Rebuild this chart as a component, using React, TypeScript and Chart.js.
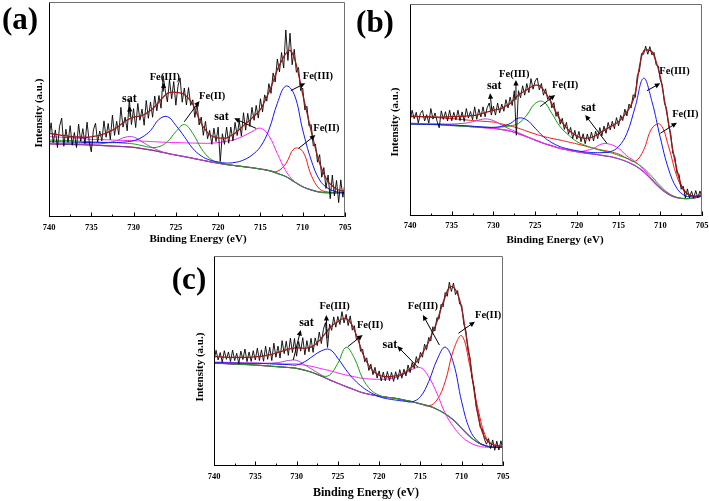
import React, { useEffect, useRef } from "react";
import { Chart, registerables } from "chart.js";

Chart.register(...registerables);

const FONT = "'Liberation Serif', 'Times New Roman', serif";

// ---------- shared axes ----------
const energyFit = [740, 739, 738, 737, 736, 735, 734, 733, 732, 731, 730, 729, 728, 727, 726, 725, 724, 723, 722, 721, 720, 719, 718, 717, 716, 715, 714, 713, 712, 711, 710, 709, 708, 707, 706, 705];
const energyEnv = [740, 739.5, 739, 738.5, 738, 737.5, 737, 736.5, 736, 735.5, 735, 734.5, 734, 733.5, 733, 732.5, 732, 731.5, 731, 730.5, 730, 729.5, 729, 728.5, 728, 727.5, 727, 726.5, 726, 725.5, 725, 724.5, 724, 723.5, 723, 722.5, 722, 721.5, 721, 720.5, 720, 719.5, 719, 718.5, 718, 717.5, 717, 716.5, 716, 715.5, 715, 714.5, 714, 713.5, 713, 712.5, 712, 711.5, 711, 710.5, 710, 709.5, 709, 708.5, 708, 707.5, 707, 706.5, 706, 705.5, 705];
const energyRaw = [740, 739.75, 739.5, 739.25, 739, 738.75, 738.5, 738.25, 738, 737.75, 737.5, 737.25, 737, 736.75, 736.5, 736.25, 736, 735.75, 735.5, 735.25, 735, 734.75, 734.5, 734.25, 734, 733.75, 733.5, 733.25, 733, 732.75, 732.5, 732.25, 732, 731.75, 731.5, 731.25, 731, 730.75, 730.5, 730.25, 730, 729.75, 729.5, 729.25, 729, 728.75, 728.5, 728.25, 728, 727.75, 727.5, 727.25, 727, 726.75, 726.5, 726.25, 726, 725.75, 725.5, 725.25, 725, 724.75, 724.5, 724.25, 724, 723.75, 723.5, 723.25, 723, 722.75, 722.5, 722.25, 722, 721.75, 721.5, 721.25, 721, 720.75, 720.5, 720.25, 720, 719.75, 719.5, 719.25, 719, 718.75, 718.5, 718.25, 718, 717.75, 717.5, 717.25, 717, 716.75, 716.5, 716.25, 716, 715.75, 715.5, 715.25, 715, 714.75, 714.5, 714.25, 714, 713.75, 713.5, 713.25, 713, 712.75, 712.5, 712.25, 712, 711.75, 711.5, 711.25, 711, 710.75, 710.5, 710.25, 710, 709.75, 709.5, 709.25, 709, 708.75, 708.5, 708.25, 708, 707.75, 707.5, 707.25, 707, 706.75, 706.5, 706.25, 706, 705.75, 705.5, 705.25, 705];
const tickLabels = [740, 735, 730, 725, 720, 715, 710, 705];
const minorTicks = [737.5, 732.5, 727.5, 722.5, 717.5, 712.5, 707.5];

// ---------- panel (a) ----------
const rawA = [36.9, 43.8, 34.6, 40.5, 32.3, 42.2, 46.0, 32.9, 40.8, 34.7, 42.5, 33.4, 39.3, 32.3, 43.2, 35.2, 41.1, 34.1, 44.1, 35.2, 30.3, 40.5, 43.6, 34.8, 40.0, 35.4, 44.7, 37.1, 43.5, 36.0, 47.4, 38.0, 44.5, 38.3, 51.0, 41.8, 46.5, 40.1, 54.6, 43.0, 50.4, 41.6, 52.8, 45.0, 50.2, 42.7, 54.2, 45.9, 53.5, 46.4, 56.3, 49.4, 56.5, 50.6, 65.7, 58.6, 53.5, 63.8, 55.0, 63.0, 52.0, 60.9, 64.7, 53.4, 60.0, 52.1, 60.2, 51.9, 54.5, 46.3, 53.0, 42.8, 46.5, 38.0, 44.5, 36.4, 40.3, 33.8, 41.3, 35.1, 41.8, 25.8, 38.7, 33.8, 41.8, 34.3, 41.8, 35.4, 44.0, 37.9, 44.7, 37.6, 48.5, 40.4, 48.2, 42.1, 51.0, 45.0, 51.9, 46.0, 55.0, 48.9, 56.8, 53.9, 62.0, 57.5, 67.0, 62.8, 73.5, 67.5, 76.5, 69.3, 87.0, 72.8, 85.5, 70.8, 78.0, 67.3, 69.5, 58.8, 60.0, 49.8, 51.5, 42.3, 43.0, 33.0, 34.0, 25.5, 29.0, 18.5, 23.0, 13.3, 19.5, 8.5, 19.5, 9.8, 17.0, 6.7, 17.3, 9.2, 16.0];
const envA = [38.9, 38.6, 38.3, 38.0, 37.8, 37.5, 37.3, 37.2, 37.1, 37.1, 37.3, 37.6, 38.0, 38.7, 39.5, 40.4, 41.5, 43.0, 44.5, 45.6, 46.4, 46.8, 47.2, 48.2, 49.5, 51.3, 53.5, 55.7, 57.5, 58.0, 58.0, 57.7, 57.0, 55.2, 52.5, 48.0, 43.5, 40.5, 38.3, 37.3, 36.8, 36.7, 36.8, 37.8, 39.0, 40.7, 42.5, 44.2, 46.0, 47.9, 50.0, 53.8, 58.0, 63.0, 68.5, 72.5, 76.0, 77.5, 74.0, 66.5, 57.0, 48.5, 40.0, 32.0, 25.0, 20.0, 16.5, 14.5, 13.0, 12.3, 12.0];
const fe3A = [35.0, 35.0, 34.9, 34.8, 34.7, 34.6, 34.6, 34.6, 34.6, 34.9, 35.5, 37.1, 40.2, 45.4, 46.7, 42.6, 37.4, 31.9, 28.4, 26.5, 25.6, 25.1, 25.4, 26.5, 28.8, 32.7, 40.5, 52.9, 60.9, 57.0, 40.5, 26.5, 17.2, 13.3, 11.8, 11.3];
const fe2A = [35.8, 35.7, 35.6, 35.4, 35.2, 35.0, 34.8, 34.7, 34.6, 34.3, 34.0, 33.2, 32.4, 32.7, 35.0, 39.7, 43.0, 38.9, 31.9, 27.3, 25.3, 24.5, 23.9, 23.4, 22.9, 22.3, 21.6, 20.3, 18.8, 16.4, 14.1, 12.6, 11.6, 11.3, 11.3, 11.3];
const satA = [37.4, 37.2, 37.0, 36.8, 36.5, 36.1, 36.0, 35.9, 35.7, 35.6, 35.5, 35.3, 35.1, 34.9, 34.7, 34.6, 34.5, 34.4, 34.3, 34.3, 34.6, 35.2, 36.1, 37.7, 39.7, 41.3, 37.8, 29.5, 21.5, 16.5, 14.0, 12.5, 11.6, 11.3, 11.3, 11.3];
const fe2bA = [34.0, 33.9, 33.8, 33.7, 33.6, 33.5, 33.3, 33.1, 32.9, 32.7, 32.4, 31.8, 31.2, 30.4, 29.6, 28.8, 28.1, 27.3, 26.5, 25.7, 25.0, 24.4, 23.9, 23.4, 22.9, 22.3, 21.6, 21.3, 24.8, 31.8, 30.5, 19.5, 13.0, 11.6, 11.3, 11.3];
const satLoA = [34.3, 34.3, 34.2, 34.1, 34.0, 34.0, 34.0, 34.6, 35.5, 37.1, 37.2, 35.0, 32.7, 30.9, 29.6, 28.8, 28.1, 27.3, 26.5, 25.7, 25.0, 24.4, 23.9, 23.4, 22.9, 22.3, 21.6, 20.3, 18.8, 16.4, 14.1, 12.6, 11.6, 11.3, 11.3, 11.3];
const baseA = [34.0, 33.9, 33.8, 33.7, 33.6, 33.5, 33.3, 33.1, 32.9, 32.7, 32.4, 31.8, 31.2, 30.4, 29.6, 28.8, 28.1, 27.3, 26.5, 25.7, 25.0, 24.4, 23.9, 23.4, 22.9, 22.3, 21.6, 20.3, 18.8, 16.4, 14.1, 12.6, 11.6, 11.3, 11.3, 11.3];
const notesA = [
  { text: "sat", x: 730.5, y: 54.9, from: [730.4, 46.5], to: [730.5, 51.6] },
  { text: "Fe(III)", x: 726.3, y: 65.0, from: [726.5, 58.3], to: [726.4, 62.6] },
  { text: "Fe(II)", x: 720.7, y: 56.3, from: [724.0, 44.3], to: [722.2, 54.0] },
  { text: "sat", x: 719.6, y: 46.4, from: [715.5, 41.2], to: [718.1, 45.9] },
  { text: "Fe(III)", x: 708.2, y: 65.3, from: [711.4, 58.8], to: [709.7, 62.2] },
  { text: "Fe(II)", x: 707.2, y: 41.2, from: [710.5, 31.9], to: [708.5, 38.1] },
];

// ---------- panel (b) ----------
const rawB = [44.9, 49.9, 45.9, 48.9, 43.9, 48.4, 49.8, 44.8, 47.8, 43.8, 50.7, 45.7, 48.6, 44.6, 41.6, 49.6, 45.6, 49.2, 44.8, 49.9, 44.9, 48.9, 45.4, 49.9, 45.0, 49.1, 44.6, 50.7, 46.2, 49.3, 45.4, 51.5, 45.6, 50.4, 46.7, 51.5, 46.8, 51.1, 53.3, 47.6, 51.8, 47.6, 53.3, 48.6, 52.8, 49.4, 54.9, 51.0, 56.1, 52.1, 59.1, 38.1, 59.1, 55.8, 61.4, 57.0, 62.5, 58.2, 64.8, 59.8, 63.7, 65.1, 59.5, 62.5, 57.0, 60.0, 55.0, 56.8, 51.0, 53.5, 47.0, 49.2, 43.3, 46.1, 40.8, 44.2, 38.6, 41.8, 36.5, 40.4, 36.2, 39.9, 35.0, 38.8, 34.1, 38.7, 35.3, 39.6, 35.4, 40.0, 36.5, 41.7, 37.8, 42.4, 39.0, 44.1, 40.6, 44.7, 41.2, 46.4, 42.5, 47.5, 45.0, 50.4, 47.2, 52.8, 50.9, 57.2, 55.9, 66.2, 68.4, 76.6, 76.3, 80.1, 76.3, 79.9, 76.0, 77.2, 71.3, 70.8, 64.2, 61.7, 53.2, 50.7, 42.7, 38.9, 29.6, 27.9, 20.2, 19.7, 12.6, 14.1, 8.5, 12.8, 8.5, 11.7, 8.4, 12.0, 8.6, 11.8, 8.9];
const envB = [46.9, 46.9, 46.9, 46.8, 46.8, 46.7, 46.6, 46.6, 46.6, 46.8, 46.9, 46.9, 47.0, 47.1, 47.2, 47.4, 47.6, 48.2, 48.8, 49.3, 49.8, 50.3, 50.8, 51.9, 53.1, 55.1, 57.1, 58.4, 59.5, 60.8, 61.7, 61.5, 59.5, 56.5, 53.0, 49.0, 45.3, 42.8, 40.6, 39.0, 37.7, 37.0, 36.6, 36.8, 37.4, 38.5, 39.8, 41.0, 42.1, 43.2, 44.5, 46.5, 49.2, 52.4, 57.9, 70.4, 77.8, 78.3, 77.5, 72.8, 65.7, 54.7, 43.7, 31.1, 21.7, 14.6, 11.5, 10.0, 9.4, 9.6, 9.9];
const fe3B = [43.4, 43.3, 43.2, 43.1, 43.0, 42.9, 42.7, 42.5, 42.2, 41.9, 41.8, 42.3, 43.6, 46.2, 45.3, 41.4, 37.4, 34.6, 32.7, 31.6, 30.8, 30.2, 29.9, 29.9, 30.3, 32.7, 39.0, 51.6, 65.0, 54.0, 37.0, 22.0, 13.0, 9.5, 9.1, 9.3];
const fe2B = [43.4, 43.3, 43.2, 43.1, 43.0, 42.6, 42.4, 42.2, 42.0, 41.9, 41.8, 42.0, 42.5, 43.7, 47.6, 53.1, 53.9, 48.4, 42.1, 38.2, 35.1, 33.3, 31.9, 30.8, 29.9, 28.6, 27.2, 25.2, 22.5, 18.6, 14.2, 10.7, 8.8, 8.2, 8.5, 9.4];
const satB = [43.6, 43.5, 43.3, 43.2, 43.0, 42.8, 42.5, 42.2, 41.9, 41.6, 41.3, 40.7, 40.0, 38.7, 37.3, 35.8, 34.3, 33.0, 31.9, 31.0, 30.3, 30.8, 31.9, 34.0, 33.8, 31.9, 28.3, 25.6, 22.0, 17.5, 13.5, 10.5, 8.8, 8.2, 8.5, 9.4];
const fe2bB = [47.2, 47.0, 46.8, 46.5, 46.2, 45.9, 45.6, 45.2, 44.9, 44.6, 44.3, 43.4, 42.5, 41.4, 40.0, 38.7, 37.5, 36.6, 35.8, 34.9, 34.0, 33.0, 32.0, 31.1, 30.3, 29.2, 27.2, 25.8, 31.1, 41.4, 43.2, 32.7, 18.6, 11.0, 9.4, 9.4];
const satLoB = [43.4, 43.4, 43.4, 43.4, 43.4, 43.4, 43.6, 44.0, 45.0, 45.8, 45.0, 42.9, 40.9, 39.3, 37.4, 35.8, 34.3, 33.1, 31.9, 31.1, 30.3, 29.7, 29.2, 28.6, 28.0, 27.0, 25.6, 23.7, 20.9, 17.0, 13.1, 10.2, 8.6, 8.2, 8.5, 9.4];
const baseB = [43.7, 43.6, 43.4, 43.3, 43.1, 42.9, 42.6, 42.3, 42.0, 41.7, 41.4, 40.8, 40.1, 38.8, 37.4, 35.8, 34.3, 33.1, 31.9, 31.1, 30.3, 29.7, 29.2, 28.6, 28.0, 27.0, 25.6, 23.7, 20.9, 17.0, 13.1, 10.2, 8.6, 8.2, 8.5, 9.4];
const notesB = [
  { text: "sat", x: 729.9, y: 61.3, from: [730.2, 50.0], to: [730.4, 57.9] },
  { text: "Fe(III)", x: 727.5, y: 67.0, from: [727.3, 54.7], to: [727.3, 64.2] },
  { text: "Fe(II)", x: 721.4, y: 61.8, from: [724.4, 51.6], to: [722.6, 57.1] },
  { text: "sat", x: 718.6, y: 51.1, from: [716.4, 34.3], to: [719.0, 47.6] },
  { text: "Fe(III)", x: 708.3, y: 68.1, from: [711.6, 59.1], to: [710.0, 62.6] },
  { text: "Fe(II)", x: 707.0, y: 48.0, from: [710.0, 39.0], to: [708.0, 44.0] },
];

// ---------- panel (c) ----------
const rawC = [50.1, 55.1, 50.5, 54.0, 49.4, 54.9, 50.8, 54.3, 49.7, 55.2, 50.2, 53.7, 48.7, 54.7, 50.7, 55.7, 49.7, 54.3, 49.8, 54.9, 50.5, 56.1, 50.2, 55.3, 49.9, 57.1, 50.8, 56.5, 50.2, 58.5, 51.8, 57.1, 51.4, 59.7, 53.5, 59.4, 52.7, 60.9, 54.0, 60.7, 52.3, 59.3, 54.7, 61.1, 53.0, 59.7, 54.4, 60.8, 54.1, 61.0, 57.3, 63.8, 58.3, 65.1, 68.3, 56.5, 67.6, 64.6, 71.0, 66.1, 71.2, 67.4, 73.5, 68.1, 72.2, 66.9, 71.5, 64.7, 66.8, 60.2, 61.5, 54.6, 55.7, 49.6, 51.5, 45.5, 48.5, 43.5, 47.0, 41.9, 45.3, 40.5, 44.7, 40.6, 45.0, 40.6, 44.6, 40.3, 44.9, 41.2, 45.9, 41.8, 46.1, 42.9, 48.1, 44.5, 49.3, 46.5, 52.1, 48.9, 54.1, 51.8, 58.0, 55.4, 61.2, 59.5, 66.3, 64.3, 70.7, 69.9, 77.0, 75.8, 82.6, 80.8, 87.5, 83.1, 87.1, 81.6, 83.5, 77.1, 76.6, 67.6, 64.5, 55.3, 51.5, 41.8, 37.5, 28.3, 24.5, 18.3, 17.5, 12.7, 10.4, 13.1, 8.3, 12.4, 7.5, 11.8, 7.6, 12.0, 7.5];
const envC = [52.1, 52.0, 51.9, 51.8, 51.7, 51.7, 51.7, 51.7, 51.7, 51.8, 52.0, 52.2, 52.4, 52.8, 53.2, 53.8, 54.4, 55.0, 55.7, 56.0, 56.3, 56.2, 56.0, 56.4, 57.1, 58.8, 60.8, 63.3, 65.6, 67.5, 68.7, 70.0, 70.2, 68.5, 64.8, 59.5, 53.7, 49.5, 46.5, 44.5, 43.3, 42.7, 42.5, 42.6, 42.9, 43.4, 44.1, 45.6, 47.3, 49.6, 52.1, 55.5, 59.2, 63.8, 68.7, 75.0, 80.6, 85.0, 85.1, 82.0, 75.1, 63.0, 50.5, 36.0, 23.5, 16.0, 12.4, 10.8, 10.0, 9.6, 9.5];
const fe3C = [49.2, 49.2, 49.1, 49.0, 48.9, 48.9, 48.8, 48.6, 48.4, 48.3, 48.1, 49.7, 52.4, 54.8, 55.5, 51.3, 45.7, 41.0, 37.5, 34.9, 33.0, 32.0, 31.4, 30.9, 30.6, 33.0, 40.2, 50.5, 56.6, 49.0, 30.5, 17.1, 11.6, 9.5, 8.9, 8.9];
const fe2C = [48.9, 48.8, 48.6, 48.4, 48.3, 48.1, 47.8, 47.5, 47.2, 46.9, 46.5, 45.6, 44.4, 42.9, 43.3, 48.9, 56.5, 51.3, 41.7, 36.2, 33.7, 32.7, 32.2, 31.4, 30.6, 29.6, 28.6, 27.0, 24.8, 21.9, 17.9, 14.0, 11.1, 9.5, 8.9, 8.9];
const satC = [49.5, 49.4, 49.3, 49.2, 49.1, 49.0, 48.9, 48.8, 48.7, 48.6, 48.6, 48.0, 47.3, 46.3, 45.4, 44.3, 43.3, 42.5, 41.7, 41.4, 41.3, 41.4, 42.2, 43.8, 46.0, 46.9, 42.5, 34.6, 25.1, 18.7, 14.0, 11.1, 9.5, 8.9, 8.9, 8.9];
const fe2bC = [48.9, 48.8, 48.6, 48.4, 48.3, 48.1, 47.8, 47.5, 47.2, 46.9, 46.5, 45.6, 44.4, 42.8, 41.0, 39.4, 37.8, 36.3, 34.9, 34.0, 33.3, 32.7, 32.2, 31.4, 30.6, 29.6, 28.6, 31.4, 40.2, 55.2, 62.0, 47.3, 26.7, 13.2, 9.5, 8.9];
const satLoC = [48.9, 48.9, 48.9, 48.9, 48.9, 48.9, 48.9, 49.0, 49.4, 50.2, 50.3, 48.1, 45.7, 43.3, 41.0, 39.4, 37.8, 36.3, 34.9, 34.0, 33.3, 32.7, 32.2, 31.4, 30.6, 29.6, 28.6, 27.0, 24.8, 21.9, 17.9, 14.0, 11.1, 9.5, 8.9, 8.9];
const baseC = [48.9, 48.8, 48.6, 48.4, 48.3, 48.1, 47.8, 47.5, 47.2, 46.9, 46.5, 45.6, 44.4, 42.8, 41.0, 39.4, 37.8, 36.3, 34.9, 34.0, 33.3, 32.7, 32.2, 31.4, 30.6, 29.6, 28.6, 27.0, 24.8, 21.9, 17.9, 14.0, 11.1, 9.5, 8.9, 8.9];
const notesC = [
  { text: "sat", x: 728.8, y: 68.3, from: [730.4, 50.5], to: [729.5, 64.8] },
  { text: "Fe(III)", x: 725.4, y: 75.9, from: [726.3, 60.8], to: [726.4, 71.9] },
  { text: "Fe(II)", x: 721.1, y: 67.1, from: [723.8, 56.8], to: [722.0, 62.4] },
  { text: "sat", x: 718.7, y: 57.6, from: [715.3, 47.0], to: [717.8, 57.1] },
  { text: "Fe(III)", x: 714.7, y: 75.9, from: [712.7, 57.6], to: [714.7, 71.9] },
  { text: "Fe(II)", x: 706.8, y: 71.9, from: [710.4, 63.2], to: [708.4, 68.7] },
];

// ---------- styles ----------
const COLORS = {
  env: "#9a1a1a",
  raw: "#000000",
  fe3: "#1414ff",
  fe2: "#12a012",
  sat: "#ff22ff",
  fe2b: "#ff1414",
  satLo: "#b044d0",
  base: "#7a3aa0",
};

type Note = { text: string; x: number; y: number; from: number[]; to: number[] };
type PanelSpec = {
  key: string;
  letter: string;
  left: number;
  top: number;
  width: number;
  height: number;
  pad: { left: number; right: number; top: number; bottom: number };
  letterAt: number[];
  yTitleAt: number[];
  xTitleAt: number[];
  tickY: number;
  xTitleSize: number;
  raw: number[];
  env: number[];
  fe3: number[];
  fe2: number[];
  sat: number[];
  fe2b: number[];
  satLo: number[];
  base: number[];
  notes: Note[];
};

const panels: PanelSpec[] = [
  {
    key: "a", letter: "(a)", left: 0, top: 0, width: 355, height: 250,
    pad: { left: 49, right: 10, top: 2, bottom: 33 },
    letterAt: [20, 21], yTitleAt: [39, 113], xTitleAt: [198, 239], tickY: 228, xTitleSize: 11,
    raw: rawA, env: envA, fe3: fe3A, fe2: fe2A, sat: satA, fe2b: fe2bA, satLo: satLoA, base: baseA, notes: notesA,
  },
  {
    key: "b", letter: "(b)", left: 355, top: 0, width: 354, height: 250,
    pad: { left: 55, right: 7, top: 4, bottom: 34 },
    letterAt: [20, 24], yTitleAt: [40, 122], xTitleAt: [200, 240], tickY: 226, xTitleSize: 11,
    raw: rawB, env: envB, fe3: fe3B, fe2: fe2B, sat: satB, fe2b: fe2bB, satLo: satLoB, base: baseB, notes: notesB,
  },
  {
    key: "c", letter: "(c)", left: 170, top: 250, width: 370, height: 251,
    pad: { left: 44, right: 37, top: 6, bottom: 35 },
    letterAt: [19, 31], yTitleAt: [30, 117], xTitleAt: [196, 243], tickY: 227, xTitleSize: 12,
    raw: rawC, env: envC, fe3: fe3C, fe2: fe2C, sat: satC, fe2b: fe2bC, satLo: satLoC, base: baseC, notes: notesC,
  },
];

function series(xs: number[], ys: number[], color: string, width: number, tension: number) {
  return {
    data: ys.map((v, i) => ({ x: xs[i], y: v })),
    borderColor: color,
    backgroundColor: color,
    borderWidth: width,
    pointRadius: 0,
    fill: false,
    tension,
  };
}

function arrow(ctx: CanvasRenderingContext2D, x1: number, y1: number, x2: number, y2: number) {
  const ang = Math.atan2(y2 - y1, x2 - x1);
  const L = 5.5;
  const W = 2.6;
  const c = Math.cos(ang);
  const s = Math.sin(ang);
  ctx.beginPath();
  ctx.moveTo(x1, y1);
  ctx.lineTo(x2 - c * L * 0.7, y2 - s * L * 0.7);
  ctx.stroke();
  ctx.beginPath();
  ctx.moveTo(x2, y2);
  ctx.lineTo(x2 - L * c + W * s, y2 - L * s - W * c);
  ctx.lineTo(x2 - L * c - W * s, y2 - L * s + W * c);
  ctx.closePath();
  ctx.fill();
}

function decorPlugin(spec: PanelSpec) {
  return {
    id: "decor" + spec.key,
    afterDatasetsDraw(chart: any) {
      const ctx: CanvasRenderingContext2D = chart.ctx;
      const a = chart.chartArea;
      const xs = chart.scales.x;
      const ys = chart.scales.y;
      ctx.save();
      // frame
      ctx.lineWidth = 1;
      ctx.strokeStyle = "#707070";
      ctx.beginPath();
      ctx.moveTo(a.left + 0.5, a.top + 0.5);
      ctx.lineTo(a.right - 0.5, a.top + 0.5);
      ctx.lineTo(a.right - 0.5, a.bottom - 0.5);
      ctx.stroke();
      ctx.strokeStyle = "#000";
      ctx.beginPath();
      ctx.moveTo(a.left + 0.5, a.top + 0.5);
      ctx.lineTo(a.left + 0.5, a.bottom - 0.5);
      ctx.lineTo(a.right - 0.5, a.bottom - 0.5);
      ctx.stroke();
      // ticks (inward)
      ctx.beginPath();
      for (const t of tickLabels) {
        const px = Math.round(xs.getPixelForValue(t)) + 0.5;
        ctx.moveTo(px, a.bottom);
        ctx.lineTo(px, a.bottom - 4.5);
      }
      for (const t of minorTicks) {
        const px = Math.round(xs.getPixelForValue(t)) + 0.5;
        ctx.moveTo(px, a.bottom);
        ctx.lineTo(px, a.bottom - 2.5);
      }
      ctx.stroke();
      ctx.fillStyle = "#000";
      ctx.textAlign = "center";
      ctx.textBaseline = "middle";
      ctx.font = `bold 8.5px ${FONT}`;
      for (const t of tickLabels) {
        ctx.fillText(String(t), xs.getPixelForValue(t), spec.tickY);
      }
      // axis titles
      ctx.font = `bold ${spec.xTitleSize}px ${FONT}`;
      ctx.fillText("Binding Energy (eV)", spec.xTitleAt[0], spec.xTitleAt[1]);
      ctx.save();
      ctx.translate(spec.yTitleAt[0], spec.yTitleAt[1]);
      ctx.rotate(-Math.PI / 2);
      ctx.font = `bold 11px ${FONT}`;
      ctx.fillText("Intensity (a.u.)", 0, 0);
      ctx.restore();
      // panel letter
      ctx.font = `bold 31px ${FONT}`;
      ctx.fillText(spec.letter, spec.letterAt[0], spec.letterAt[1]);
      // annotations
      ctx.lineWidth = 1;
      for (const n of spec.notes) {
        ctx.font = n.text === "sat" ? `bold 12px ${FONT}` : `bold 10.5px ${FONT}`;
        ctx.fillText(n.text, xs.getPixelForValue(n.x), ys.getPixelForValue(n.y));
        arrow(
          ctx,
          xs.getPixelForValue(n.from[0]),
          ys.getPixelForValue(n.from[1]),
          xs.getPixelForValue(n.to[0]),
          ys.getPixelForValue(n.to[1])
        );
      }
      ctx.restore();
    },
  };
}

function Panel({ spec }: { spec: PanelSpec }) {
  const ref = useRef<HTMLCanvasElement>(null);
  useEffect(() => {
    const canvas = ref.current;
    if (!canvas) return;
    const chart = new Chart(canvas, {
      type: "line",
      data: {
        datasets: [
          series(energyEnv, spec.env, COLORS.env, 1.3, 0.4),
          series(energyRaw, spec.raw, COLORS.raw, 0.9, 0),
          series(energyFit, spec.fe3, COLORS.fe3, 1, 0.4),
          series(energyFit, spec.fe2, COLORS.fe2, 1, 0.4),
          series(energyFit, spec.sat, COLORS.sat, 1, 0.4),
          series(energyFit, spec.satLo, COLORS.satLo, 1, 0.4),
          series(energyFit, spec.base, COLORS.base, 1.2, 0.4),
          series(energyFit, spec.fe2b, COLORS.fe2b, 1, 0.4),
        ] as any,
      },
      options: {
        animation: false,
        responsive: false,
        maintainAspectRatio: false,
        devicePixelRatio: 1,
        events: [],
        layout: { padding: spec.pad },
        plugins: { legend: { display: false }, tooltip: { enabled: false } },
        scales: {
          x: { type: "linear", display: false, min: 705, max: 740, reverse: true },
          y: { type: "linear", display: false, min: 0, max: 100 },
        },
      },
      plugins: [decorPlugin(spec)],
    } as any);
    return () => chart.destroy();
  }, [spec]);
  return (
    <canvas
      ref={ref}
      width={spec.width}
      height={spec.height}
      style={{ position: "absolute", left: spec.left, top: spec.top, width: spec.width, height: spec.height }}
    />
  );
}

export default function App() {
  return (
    <div style={{ position: "absolute", left: 0, top: 0, width: 709, height: 501, background: "#fff" }}>
      {panels.map((p) => (
        <Panel key={p.key} spec={p} />
      ))}
    </div>
  );
}
